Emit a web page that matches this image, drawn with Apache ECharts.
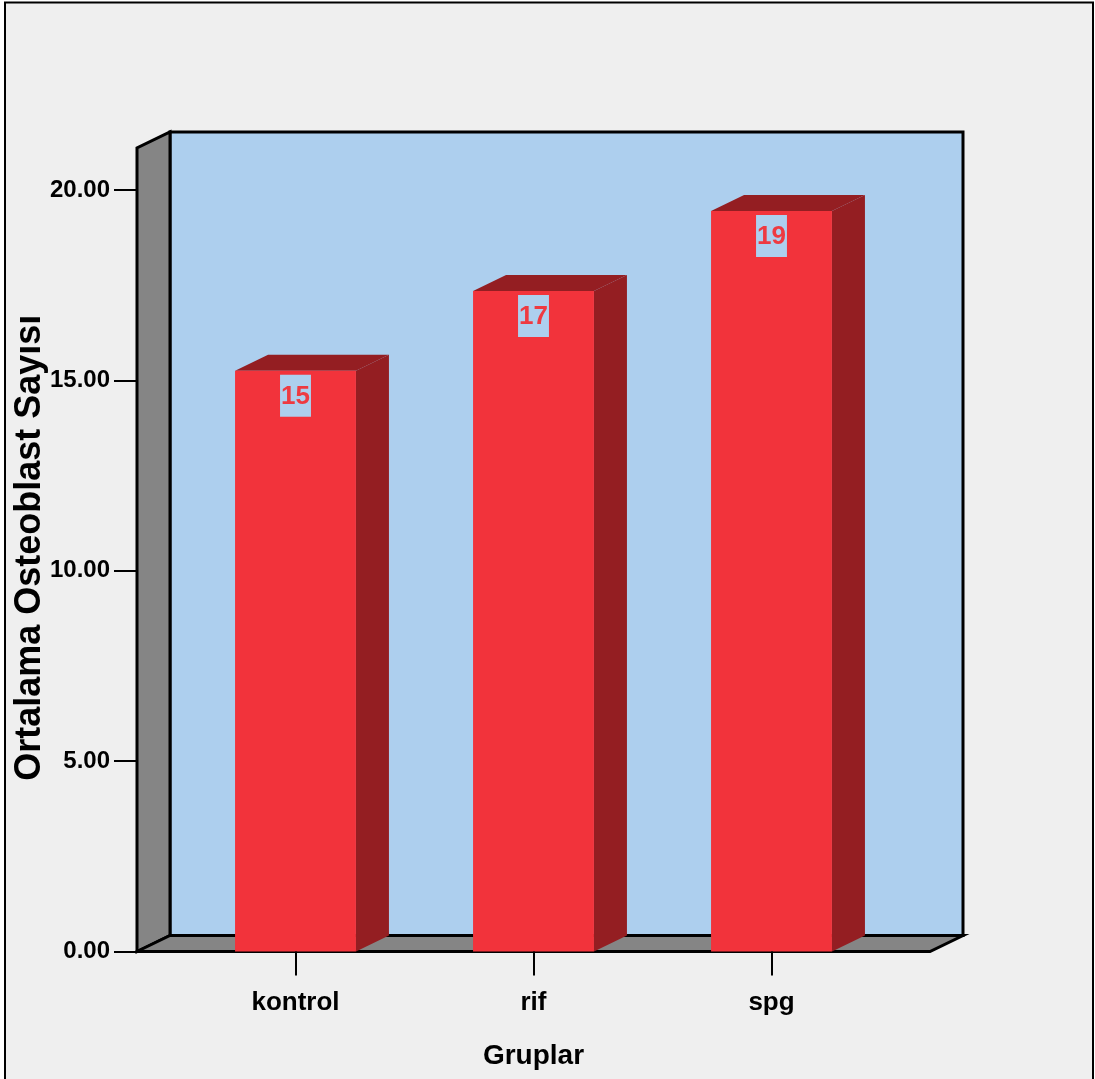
<!DOCTYPE html>
<html>
<head>
<meta charset="utf-8">
<script src="https://cdn.jsdelivr.net/npm/echarts@6/dist/echarts.min.js"></script>
<style>
  html, body { margin: 0; padding: 0; background: #ffffff; }
  #chart { width: 1095px; height: 1079px; }
</style>
</head>
<body>
<div id="chart"></div>
<script>
// Group means of osteoblast counts
const categories = ['kontrol', 'rif', 'spg'];
const meanCounts = [15.25, 17.35, 19.45];
const yTicks = [0, 5, 10, 15, 20];

// Pseudo-3D look
const DEPTH_X = 33;
const DEPTH_Y = -16;
const WALL_SIDE_EXT = 39.5;   // floor/side wall reach beyond the category band
const WALL_TOP_EXT = 42;      // wall height above the top tick
const BAR_RATIO = 0.508;

const C_FRONT = '#f2333b';
const C_SIDE = '#941e22';
const C_WALL = '#adcfee';
const C_GREY = '#858585';

const narrow = '"Liberation Sans Narrow", "Arial Narrow", "Liberation Sans", Arial, sans-serif';
const wide = '"Liberation Sans", Arial, sans-serif';

const chart = echarts.init(document.getElementById('chart'), null, { renderer: 'canvas' });

function renderWalls(params, api) {
  const cs = params.coordSys;
  const x0 = cs.x - WALL_SIDE_EXT;
  const x1 = cs.x + cs.width + WALL_SIDE_EXT;
  const yb = cs.y + cs.height;
  const yt = cs.y - WALL_TOP_EXT;
  const line = { stroke: '#000', lineWidth: 3, lineJoin: 'miter' };
  return {
    type: 'group',
    children: [
      { // back wall
        type: 'rect',
        shape: { x: x0 + DEPTH_X, y: yt + DEPTH_Y, width: x1 - x0, height: yb - yt },
        style: Object.assign({ fill: C_WALL }, line)
      },
      { // left side wall
        type: 'polygon',
        shape: { points: [[x0, yb], [x0, yt], [x0 + DEPTH_X, yt + DEPTH_Y], [x0 + DEPTH_X, yb + DEPTH_Y]] },
        style: Object.assign({ fill: C_GREY }, line)
      },
      { // floor
        type: 'polygon',
        shape: { points: [[x0, yb], [x0 + DEPTH_X, yb + DEPTH_Y], [x1 + DEPTH_X, yb + DEPTH_Y], [x1, yb]] },
        style: Object.assign({ fill: C_GREY }, line)
      }
    ]
  };
}

function renderBar(params, api) {
  const idx = api.value(0);
  const val = api.value(1);
  const top = api.coord([idx, val]);
  const base = api.coord([idx, 0]);
  const bw = api.size([1, 0])[0] * BAR_RATIO;
  const l = top[0] - bw / 2;
  const r = top[0] + bw / 2;
  const ty = top[1];
  const by = base[1];
  return {
    type: 'group',
    children: [
      {
        type: 'polygon',
        shape: { points: [[r, ty], [r + DEPTH_X, ty + DEPTH_Y], [r + DEPTH_X, by + DEPTH_Y], [r, by]] },
        style: { fill: C_SIDE }
      },
      {
        type: 'polygon',
        shape: { points: [[l, ty], [l + DEPTH_X, ty + DEPTH_Y], [r + DEPTH_X, ty + DEPTH_Y], [r, ty]] },
        style: { fill: C_SIDE }
      },
      {
        type: 'rect',
        shape: { x: l, y: ty, width: bw, height: by - ty },
        style: { fill: C_FRONT }
      },
      {
        type: 'text',
        x: top[0],
        y: ty + 4,
        style: {
          text: String(Math.round(val)),
          fill: '#ee3a41',
          backgroundColor: C_WALL,
          font: 'bold 26px ' + narrow,
          align: 'center',
          verticalAlign: 'top',
          padding: [9, 1, 7, 1]
        }
      }
    ]
  };
}

const option = {
  backgroundColor: '#ffffff',
  animation: false,
  graphic: [{
    type: 'rect',
    z: -100,
    shape: { x: 5, y: 2.5, width: 1088, height: 1100 },
    style: { fill: '#efefef', stroke: '#000', lineWidth: 2 }
  }],
  grid: {
    left: 176.5, right: 204.5, top: 190, bottom: 127.5,
    containLabel: false,
    outerBoundsMode: 'none'
  },
  xAxis: {
    type: 'category',
    data: categories,
    name: 'Gruplar',
    nameLocation: 'middle',
    nameGap: 91,
    nameMoveOverlap: false,
    nameTextStyle: { color: '#000', fontFamily: narrow, fontWeight: 'bold', fontSize: 28 },
    axisLine: { show: false },
    axisTick: { show: true, alignWithLabel: true, length: 24, lineStyle: { color: '#000', width: 2 } },
    axisLabel: { color: '#000', fontFamily: narrow, fontWeight: 'bold', fontSize: 26, margin: 38 },
    splitLine: { show: false },
    z: 5
  },
  yAxis: {
    type: 'value',
    min: yTicks[0],
    max: yTicks[yTicks.length - 1],
    interval: yTicks[1] - yTicks[0],
    offset: WALL_SIDE_EXT,
    name: 'Ortalama Osteoblast Sayısı',
    nameLocation: 'middle',
    nameGap: 89,
    nameMoveOverlap: false,
    nameTextStyle: {
      color: '#000', fontFamily: wide, fontWeight: 'bold', fontSize: 36,
      padding: [0, 0, 0, 46]
    },
    axisLine: { show: false },
    axisTick: { show: true, length: 23, lineStyle: { color: '#000', width: 2 } },
    axisLabel: {
      color: '#000', fontFamily: narrow, fontWeight: 'bold', fontSize: 24, margin: 27,
      formatter: v => v.toFixed(2)
    },
    splitLine: { show: false },
    z: 5
  },
  series: [
    {
      type: 'custom',
      z: 1,
      clip: false,
      silent: true,
      renderItem: renderWalls,
      data: [[0, 0]]
    },
    {
      type: 'custom',
      z: 2,
      clip: false,
      renderItem: renderBar,
      data: categories.map((c, i) => [i, meanCounts[i]])
    }
  ]
};

chart.setOption(option);
</script>
</body>
</html>
